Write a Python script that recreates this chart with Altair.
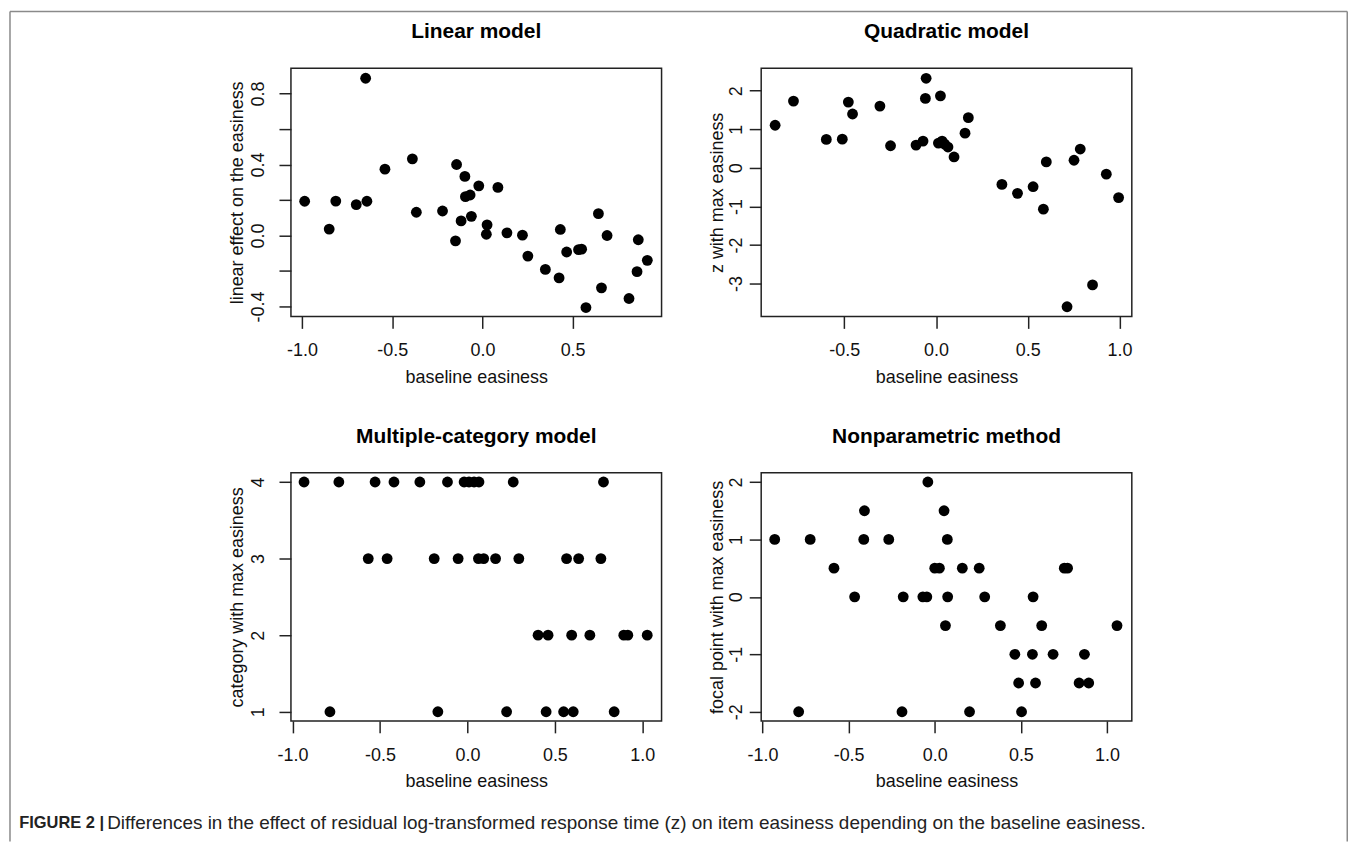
import altair as alt
import pandas as pd

FONT = "Liberation Sans"

# ---------------- data ----------------
lin_x = [-0.985, -0.849, -0.8125, -0.699, -0.647, -0.640, -0.540, -0.388, -0.366, -0.221,
         -0.143, -0.149, -0.118, -0.097, -0.094, -0.068, -0.061, -0.020, 0.026, 0.022,
         0.086, 0.136, 0.222, 0.252, 0.349, 0.432, 0.425, 0.467, 0.533, 0.550,
         0.574, 0.643, 0.660, 0.691, 0.8125, 0.864, 0.857, 0.914]
lin_y = [0.193, 0.036, 0.194, 0.174, 0.886, 0.193, 0.374, 0.432, 0.131, 0.138,
         0.400, -0.030, 0.082, 0.333, 0.219, 0.228, 0.108, 0.280, 0.060, 0.007,
         0.271, 0.015, 0.002, -0.116, -0.191, 0.034, -0.239, -0.093, -0.080, -0.077,
         -0.406, 0.123, -0.295, 0.000, -0.355, -0.024, -0.204, -0.140]

quad_x = [-0.877, -0.777, -0.598, -0.511, -0.478, -0.455, -0.306, -0.248, -0.109, -0.071,
          -0.054, -0.058, 0.024, 0.013, 0.033, 0.047, 0.065, 0.098, 0.158, 0.176,
          0.359, 0.444, 0.529, 0.585, 0.601, 0.752, 0.786, 0.714, 0.853, 0.928, 0.995]
quad_y = [1.105, 1.731, 0.737, 0.745, 1.705, 1.397, 1.602, 0.574, 0.591, 0.694,
          2.322, 1.800, 1.868, 0.643, 0.694, 0.617, 0.540, 0.283, 0.900, 1.302,
          -0.428, -0.660, -0.488, -1.071, 0.154, 0.197, 0.488, -3.599, -3.033, -0.163, -0.771]

mc_x = [-0.934, -0.735, -0.528, -0.420, -0.272, -0.114, -0.019, 0.009, 0.038, 0.066, 0.262, 0.778,
        -0.567, -0.459, -0.190, -0.053, 0.063, 0.093, 0.161, 0.294, 0.567, 0.636, 0.763,
        0.404, 0.461, 0.596, 0.700, 0.894, 0.917, 1.028,
        -0.786, -0.169, 0.224, 0.450, 0.550, 0.605, 0.839]
mc_y = [4, 4, 4, 4, 4, 4, 4, 4, 4, 4, 4, 4,
        3, 3, 3, 3, 3, 3, 3, 3, 3, 3, 3,
        2, 2, 2, 2, 2, 2, 2,
        1, 1, 1, 1, 1, 1, 1]

np_x = [-0.040, -0.408, 0.054, -0.929, -0.723, -0.412, -0.267, 0.073,
        -0.585, 0.000, 0.027, 0.160, 0.258, 0.752, 0.771,
        -0.465, -0.183, -0.069, -0.046, 0.075, 0.290, 0.571,
        0.062, 0.381, 0.621, 1.058,
        0.465, 0.567, 0.687, 0.869,
        0.487, 0.585, 0.838, 0.894,
        -0.790, -0.190, 0.202, 0.504]
np_y = [2, 1.5, 1.5, 1, 1, 1, 1, 1,
        0.5, 0.5, 0.5, 0.5, 0.5, 0.5, 0.5,
        0, 0, 0, 0, 0, 0, 0,
        -0.5, -0.5, -0.5, -0.5,
        -1, -1, -1, -1,
        -1.5, -1.5, -1.5, -1.5,
        -2, -2, -2, -2]

titles = ["Linear model", "Quadratic model", "Multiple-category model", "Nonparametric method"]
y_titles = ["linear effect on the easiness", "z with max easiness",
            "category with max easiness", "focal point with max easiness"]
x_title = "baseline easiness"
caption_bold = "FIGURE 2 |"
caption_text = ("Differences in the effect of residual log-transformed response time (z) on item "
                "easiness depending on the baseline easiness.")

W, H = 372, 249
MINUS = "\u2212"


def panel(xs, ys, title, ytitle, xdom, ydom, xticks, yticks, yfmt, left_side,
          ylabel_expr=None, extra=()):
    df = pd.DataFrame({"x": xs, "y": ys})
    fix = "replace(datum.label, '%s', '-')" % MINUS
    yexpr = ylabel_expr if ylabel_expr else fix
    pts = alt.Chart(df).mark_circle(size=118, color="black", opacity=1).encode(
        x=alt.X("x:Q", scale=alt.Scale(domain=xdom, nice=False, zero=False),
                axis=alt.Axis(values=xticks, format=".1f", labelExpr=fix, title=x_title,
                              labelBaseline="middle", labelPadding=22.5,
                              titleY=61, titleBaseline="middle")),
        y=alt.Y("y:Q", scale=alt.Scale(domain=ydom, nice=False, zero=False),
                axis=alt.Axis(values=yticks, format=yfmt, labelExpr=yexpr, title=ytitle,
                              labelAngle=270, labelAlign="center", labelBaseline="middle",
                              labelPadding=20.7 if left_side else 12.7,
                              titleAngle=270, titleAlign="center", titleBaseline="middle",
                              titleX=-54 if left_side else -44, titleY=H / 2)),
    )
    ttl = alt.Chart(pd.DataFrame({"t": [title]})).mark_text(
        font=FONT, fontSize=21, fontWeight="bold", align="center", baseline="middle",
        color="black").encode(text="t:N", x=alt.value(W / 2), y=alt.value(-36))
    return alt.layer(pts, ttl, *extra).properties(width=W, height=H)


# decorative frame and caption, placed relative to bottom-left panel
one = pd.DataFrame({"t": [caption_bold], "u": [caption_text]})
frame_col = "#8a8a8a"
frame_left = alt.Chart(one).mark_rule(color=frame_col, strokeWidth=1.5).encode(
    x=alt.value(-282), y=alt.value(-463), y2=alt.value(370))
frame_top = alt.Chart(one).mark_rule(color=frame_col, strokeWidth=1.5).encode(
    x=alt.value(-282), x2=alt.value(1060.25), y=alt.value(-463))
frame_right = alt.Chart(one).mark_rule(color=frame_col, strokeWidth=1.5).encode(
    x=alt.value(1060.25), y=alt.value(-463), y2=alt.value(370))
cap1 = alt.Chart(one).mark_text(font=FONT, fontSize=16.5, fontWeight="bold", align="left",
                                baseline="middle", color="#222").encode(
    text="t:N", x=alt.value(-272.75), y=alt.value(351.25))
cap2 = alt.Chart(one).mark_text(font=FONT, fontSize=19, align="left",
                                baseline="middle", color="#222").encode(
    text="u:N", x=alt.value(-184.5), y=alt.value(351.25))

lin_label = ("round(datum.value*10) % 4 == 0 ? replace(datum.label, '" + MINUS + "', '-') : ''")

p1 = panel(lin_x, lin_y, titles[0], y_titles[0], [-1.061, 0.993], [-0.456, 0.942],
           [-1.0, -0.5, 0.0, 0.5], [-0.4, -0.2, 0.0, 0.2, 0.4, 0.6, 0.8], ".1f", True,
           ylabel_expr=lin_label)
p2 = panel(quad_x, quad_y, titles[1], y_titles[1], [-0.953, 1.067], [-3.85, 2.58],
           [-0.5, 0.0, 0.5, 1.0], [-3, -2, -1, 0, 1, 2], "d", False)
p3 = panel(mc_x, mc_y, titles[2], y_titles[2], [-1.009, 1.11], [0.88, 4.12],
           [-1.0, -0.5, 0.0, 0.5, 1.0], [1, 2, 3, 4], "d", True,
           extra=(frame_left, frame_top, frame_right, cap1, cap2))
p4 = panel(np_x, np_y, titles[3], y_titles[3], [-1.0075, 1.144], [-2.16, 2.16],
           [-1.0, -0.5, 0.0, 0.5, 1.0], [-2, -1, 0, 1, 2], "d", False)

chart = alt.concat(p1, p2, p3, p4, columns=2, spacing={"row": 157, "column": 100},
                   bounds="flush").properties(padding=0).configure_view(
    stroke="#222", strokeWidth=1.5
).configure_axis(
    labelFont=FONT, titleFont=FONT, labelFontSize=18, titleFontSize=18,
    labelColor="#111", titleColor="#111", titleFontWeight="normal",
    tickColor="#222", tickWidth=1.5, tickSize=12, domain=False, grid=False,
    labelOverlap=False, labelFlush=False
)

chart.save("out.html", embed_options={"renderer": "svg", "actions": False})
